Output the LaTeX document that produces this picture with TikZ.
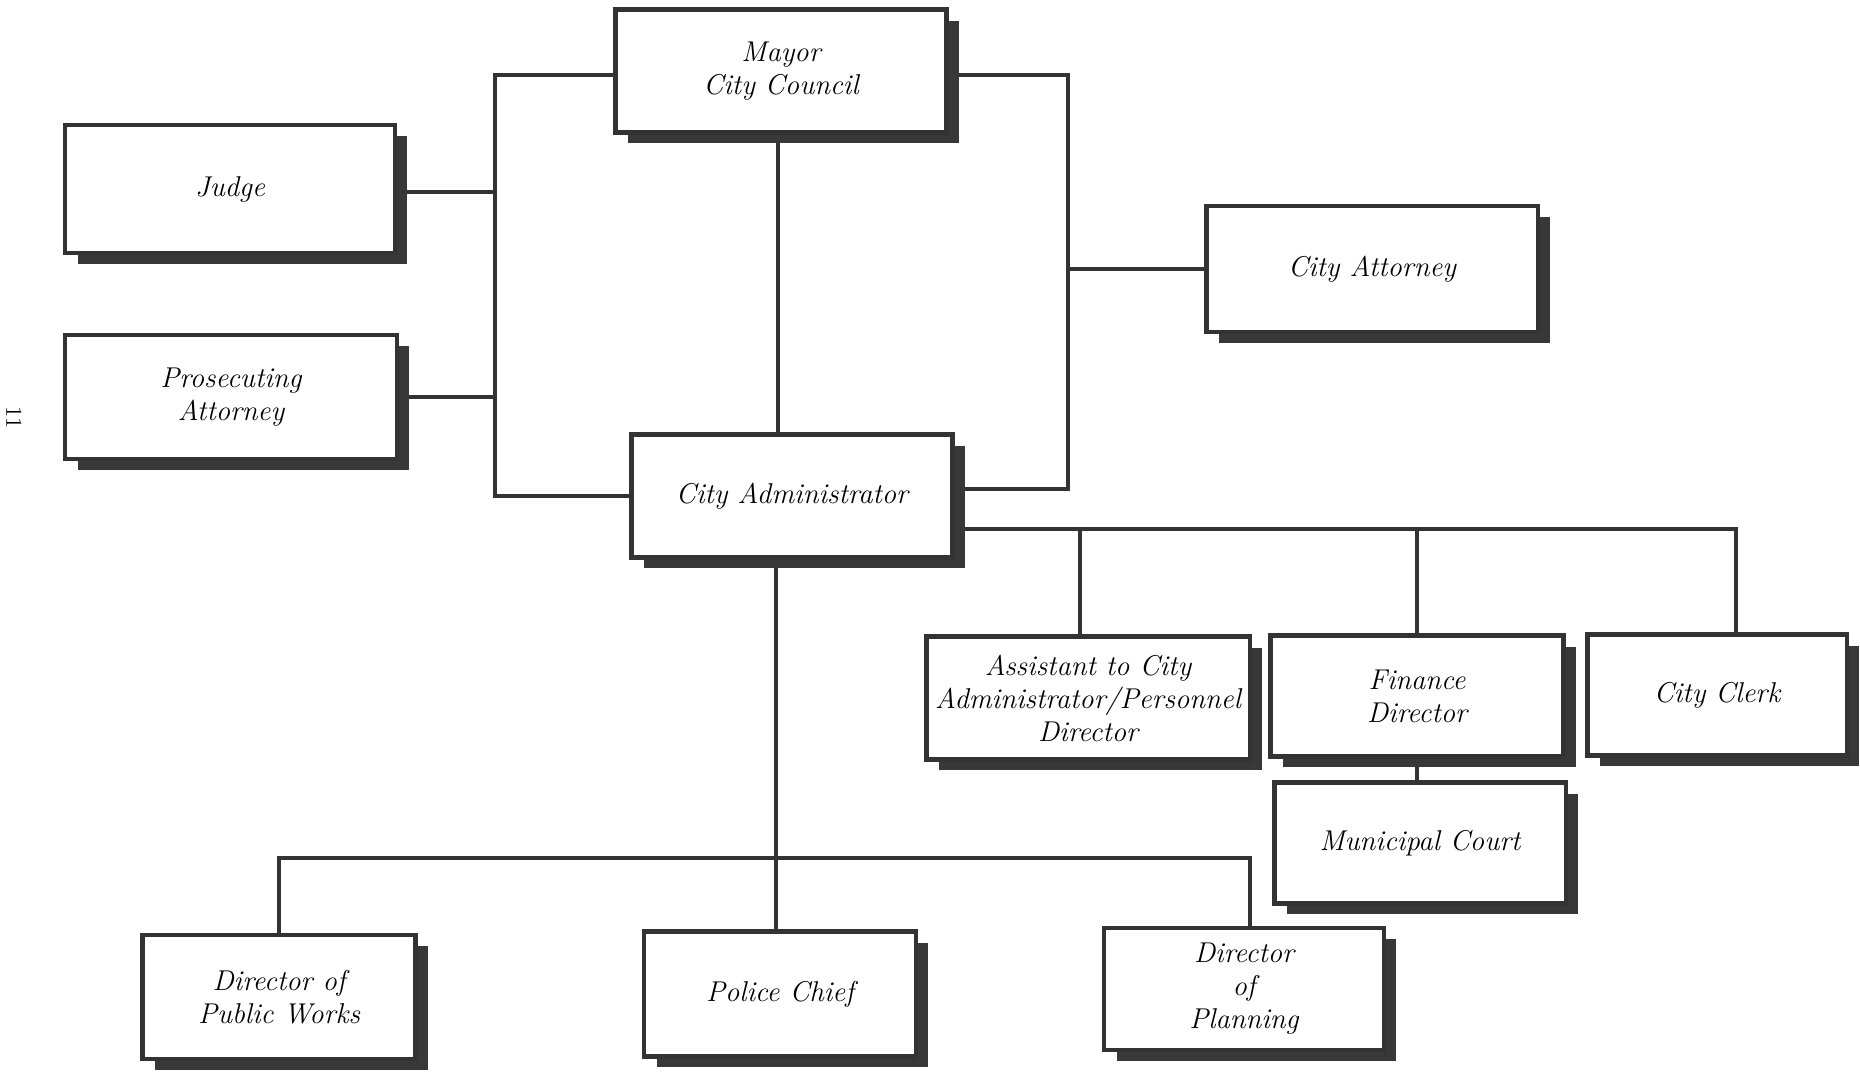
\documentclass[tikz,border=0pt]{standalone}
\usepackage{tikz}
\usetikzlibrary{calc, shadows, backgrounds, positioning}

\begin{document}
\begin{tikzpicture}[
    x=0.02cm, y=-0.02cm,
    % Styles for the offices and the reporting lines
    office/.style={draw=black!80, line width=2.8pt, fill=white, align=center,
        inner sep=2pt, font=\fontsize{16.3}{18.8}\selectfont\itshape,
        drop shadow={shadow xshift=0.25cm, shadow yshift=-0.22cm, fill=black!78, opacity=1}},
    link/.style={draw=black!80, line width=2.5pt}
]
    \useasboundingbox (0,0) rectangle (1860,1074);

    % 1. The top of the chart
    \node[office, minimum width=6.62cm, minimum height=2.46cm] (mayor) at (781,71) {Mayor\\City Council};
    \node[office, minimum width=6.60cm, minimum height=2.56cm] (judge) at (230,189) {Judge};
    \node[office, minimum width=6.64cm, minimum height=2.48cm] (prosecutor) at (231,397) {Prosecuting\\Attorney};
    \node[office, minimum width=6.64cm, minimum height=2.52cm] (attorney) at (1372,269) {City Attorney};
    \node[office, minimum width=6.42cm, minimum height=2.46cm] (admin) at (792,496) {City Administrator};

    % 2. Staff of the administrator
    \node[office, minimum width=6.48cm, minimum height=2.46cm] (assistant) at (1088,698) {Assistant to City\\Administrator/Personnel\\Director};
    \node[office, minimum width=5.86cm, minimum height=2.42cm] (finance) at (1417,696) {Finance\\Director};
    \node[office, minimum width=5.20cm, minimum height=2.42cm] (clerk) at (1717,695) {City Clerk};
    \node[office, minimum width=5.84cm, minimum height=2.42cm] (court) at (1420,843) {Municipal Court};

    % 3. Departments
    \node[office, minimum width=5.46cm, minimum height=2.48cm] (works) at (279,997) {Director of\\Public Works};
    \node[office, minimum width=5.44cm, minimum height=2.50cm] (police) at (780,994) {Police Chief};
    \node[office, minimum width=5.60cm, minimum height=2.44cm] (planning) at (1244,989) {Director\\of\\Planning};

    % Page number
    \node[rotate=-90, font=\fontsize{13}{15}\selectfont] (pagenum) at (14,418) {11};

    % 4. The reporting lines
    \coordinate (lbus) at (495,0);
    \coordinate (rbus) at (1068,0);
    \coordinate (trunk) at (776,858);
    \coordinate (staffbus) at ($(admin.east)+(0,33)$);
    \coordinate (adminright) at ($(admin.east)+(0,-7)$);

    \begin{scope}[on background layer]
        \draw[link] ($(mayor.west)+(0,4)$) -| (lbus |- admin.west) -- (admin.west);
        \draw[link] ($(judge.east)+(0,3)$) -- ($(judge.east -| lbus)+(0,3)$);
        \draw[link] (prosecutor.east) -- (prosecutor.east -| lbus);
        \draw[link] ($(mayor.east)+(0,4)$) -| (rbus |- adminright) -- (adminright);
        \draw[link] (attorney.west) -- (attorney.west -| rbus);
        \draw[link] ($(mayor.south -| trunk)+(2,0)$) -- ($(admin.north -| trunk)+(2,0)$);

        \draw[link] (staffbus) -| ($(clerk.north)+(19,0)$);
        \draw[link] ($(assistant.north)+(-8,0)$) -- ($(assistant.north |- staffbus)+(-8,0)$);
        \draw[link] (finance.north) -- (finance.north |- staffbus);
        \draw[link] (finance.south) -- (finance.south |- court.north);

        \draw[link] (trunk |- admin.south) -- (trunk |- police.north);
        \draw[link] (works.north) |- (trunk) -| ($(planning.north)+(6,0)$);
    \end{scope}

\end{tikzpicture}
\end{document}
